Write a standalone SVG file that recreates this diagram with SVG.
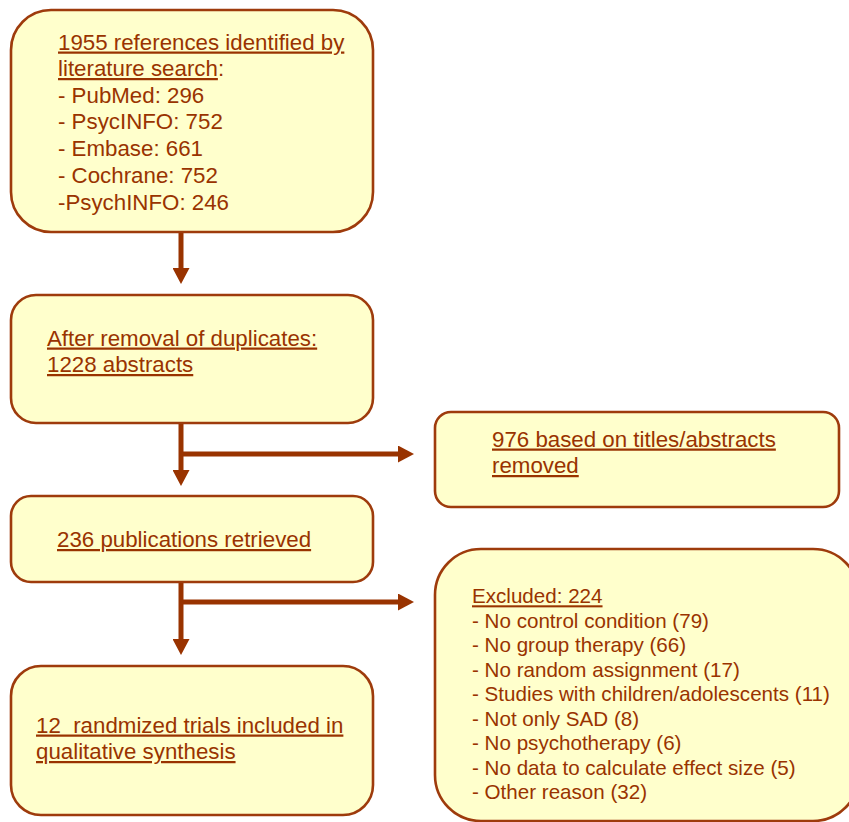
<svg xmlns="http://www.w3.org/2000/svg" width="849" height="822" viewBox="0 0 849 822">
  <style>
    .box { fill: #FFFFCC; stroke: #9E3B0C; stroke-width: 2.6; }
    .t { font-family: "Liberation Sans", Arial, sans-serif; font-size: 22.3px; fill: #993300; }
    .s { font-family: "Liberation Sans", Arial, sans-serif; font-size: 20.6px; fill: #993300; }
    .u { text-decoration: underline; }
    .arr { fill: none; stroke: #993300; stroke-width: 5; }
  </style>
  <defs>
    <marker id="head" markerUnits="userSpaceOnUse" viewBox="0 0 16 17" refX="0" refY="8.5" markerWidth="16" markerHeight="17" orient="auto">
      <path d="M0,0 L16,8.5 L0,17 Z" fill="#993300"/>
    </marker>
  </defs>
  <rect width="849" height="822" fill="#FFFFFF"/>

  <g id="connectors">
    <path class="arr" d="M181,232 V268" marker-end="url(#head)"/>
    <path class="arr" d="M181,423 V470" marker-end="url(#head)"/>
    <path class="arr" d="M181,454 H398" marker-end="url(#head)"/>
    <path class="arr" d="M181,582 V639" marker-end="url(#head)"/>
    <path class="arr" d="M181,602 H398" marker-end="url(#head)"/>
  </g>

  <g id="identified">
    <rect class="box" x="11" y="10" width="362" height="222" rx="40" ry="40"/>
    <text class="t" x="58" y="49.5"><tspan class="u">1955 references identified by</tspan></text>
    <text class="t" x="58" y="76"><tspan class="u">literature search</tspan>:</text>
    <text class="t" x="58" y="102.5">- PubMed: 296</text>
    <text class="t" x="58" y="129">- PsycINFO: 752</text>
    <text class="t" x="58" y="156">- Embase: 661</text>
    <text class="t" x="58" y="183">- Cochrane: 752</text>
    <text class="t" x="58" y="209.5">-PsychINFO: 246</text>
  </g>

  <g id="duplicates">
    <rect class="box" x="11" y="295" width="362" height="128" rx="25" ry="25"/>
    <text class="t u" x="47" y="345.5">After removal of duplicates:</text>
    <text class="t u" x="47" y="372">1228 abstracts</text>
  </g>

  <g id="removed">
    <rect class="box" x="435" y="412" width="404" height="95" rx="16" ry="16"/>
    <text class="t u" x="492" y="446.5">976 based on titles/abstracts</text>
    <text class="t u" x="492" y="473">removed</text>
  </g>

  <g id="retrieved">
    <rect class="box" x="11" y="496" width="362" height="86" rx="20" ry="20"/>
    <text class="t u" x="57" y="547">236 publications retrieved</text>
  </g>

  <g id="included">
    <rect class="box" x="11" y="666" width="362" height="149" rx="30" ry="30"/>
    <text class="t u" x="36" y="732.5" xml:space="preserve">12  randmized trials included in</text>
    <text class="t u" x="36" y="759">qualitative synthesis</text>
  </g>

  <g id="excluded">
    <rect class="box" x="435" y="549" width="424" height="272" rx="46" ry="46"/>
    <text class="s u" x="472" y="603.3">Excluded: 224</text>
    <text class="s" x="472" y="627.8">- No control condition (79)</text>
    <text class="s" x="472" y="652.3">- No group therapy (66)</text>
    <text class="s" x="472" y="676.8">- No random assignment (17)</text>
    <text class="s" x="472" y="701.3">- Studies with children/adolescents (11)</text>
    <text class="s" x="472" y="725.8">- Not only SAD (8)</text>
    <text class="s" x="472" y="750.3">- No psychotherapy (6)</text>
    <text class="s" x="472" y="774.8">- No data to calculate effect size (5)</text>
    <text class="s" x="472" y="799.3">- Other reason (32)</text>
  </g>
</svg>
